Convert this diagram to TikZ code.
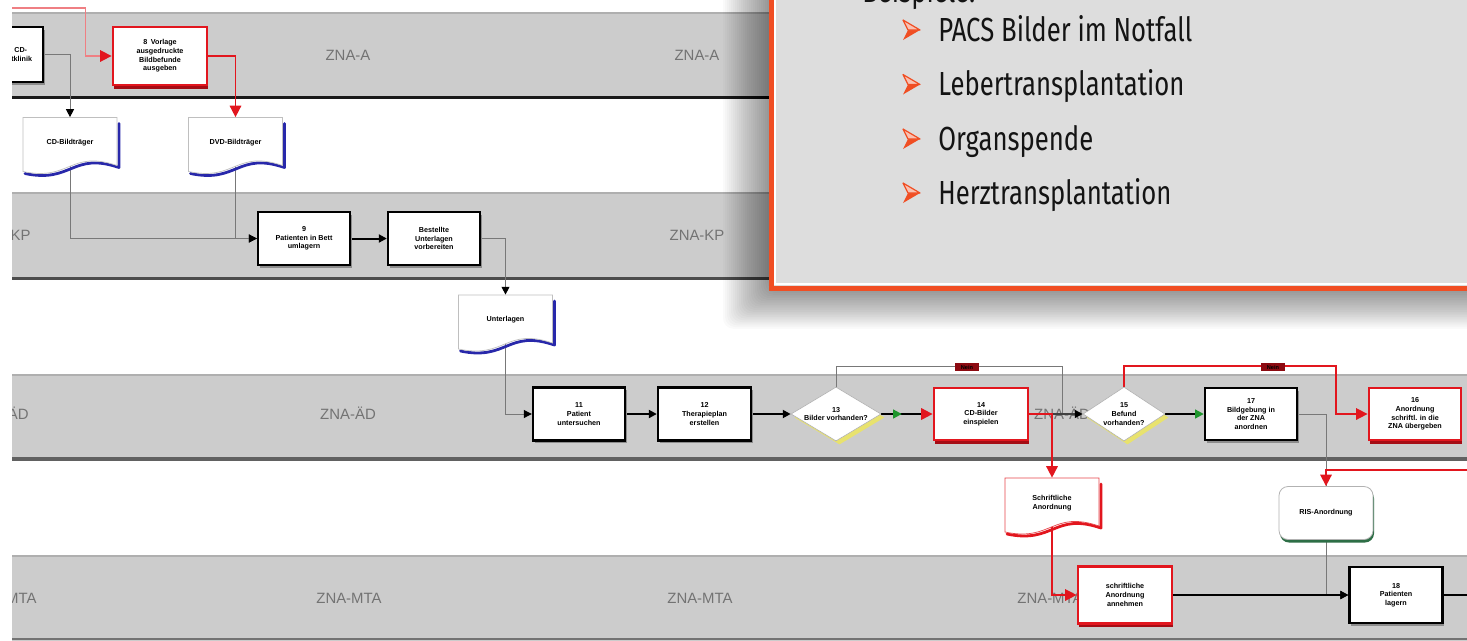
\documentclass[tikz,border=0pt]{standalone}
\usepackage{fontspec}
\setmainfont{Liberation Sans}
\newfontfamily\slidefont[FakeStretch=0.77]{Fira Sans}
\usetikzlibrary{arrows.meta,shapes.geometric,shadows,decorations.markings,calc}

% one drawing unit
\newlength\pxu
\setlength\pxu{0.02cm}

\pgfdeclarelayer{lanes}
\pgfdeclarelayer{links}
\pgfsetlayers{lanes,links,main}

\definecolor{lanegray}{RGB}{204,204,204}
\definecolor{laneedge}{RGB}{175,175,175}
\definecolor{lanetext}{RGB}{115,115,115}
\definecolor{linkgray}{RGB}{120,120,120}
\definecolor{flowred}{RGB}{226,22,30}
\definecolor{shadowred}{RGB}{165,12,20}
\definecolor{docblue}{RGB}{40,40,170}
\definecolor{panelfill}{RGB}{221,221,221}
\definecolor{panelred}{RGB}{240,78,35}
\definecolor{yesgreen}{RGB}{30,150,45}
\definecolor{diashadow}{RGB}{232,226,110}
\definecolor{dbgreen}{RGB}{45,110,70}

\newcommand\flowtext{\fontsize{4.1}{4.9}\selectfont\bfseries}

\tikzset{
  procbox/.style={draw=black, line width=2.4\pxu, fill=white,
    minimum width=92\pxu, minimum height=53\pxu, inner sep=0pt,
    align=center, font=\flowtext,
    drop shadow={shadow xshift=1.5\pxu, shadow yshift=-2.5\pxu, fill=black!45, opacity=1}},
  redbox/.style={draw=flowred, line width=2.8\pxu, fill=white,
    minimum width=92\pxu, minimum height=53\pxu, inner sep=0pt,
    align=center, font=\flowtext,
    drop shadow={shadow xshift=0.5\pxu, shadow yshift=-3.5\pxu, fill=shadowred, opacity=1}},
  decision/.style={diamond, aspect=1.7, draw=black!30, line width=0.6\pxu, fill=white,
    minimum width=90\pxu, minimum height=54\pxu, inner sep=0pt,
    align=center, font=\flowtext,
    drop shadow={shadow xshift=3.5\pxu, shadow yshift=-3.5\pxu, fill=diashadow, opacity=1}},
  storebox/.style={rounded corners=9\pxu, draw=black!30, line width=0.8\pxu, fill=white,
    minimum width=94\pxu, minimum height=53\pxu, inner sep=0pt,
    align=center, font=\flowtext,
    drop shadow={shadow xshift=1\pxu, shadow yshift=-3\pxu, fill=dbgreen, opacity=1}},
  docbox/.style={minimum width=94\pxu, minimum height=58\pxu, inner sep=0pt},
  doctext/.style={inner sep=0pt, align=center, font=\flowtext},
  neinlabel/.style={fill=shadowred!85!black, inner sep=0pt, minimum width=24\pxu,
    minimum height=8\pxu, font=\fontsize{3.2}{3.6}\selectfont\bfseries, text=black},
  lanelabel/.style={text=lanetext, inner sep=0pt, font=\fontsize{8.5}{10}\selectfont},
  slidetext/.style={inner sep=0pt, text=black!92, font={\slidefont\fontsize{19}{22}\selectfont}},
  thinlink/.style={draw=linkgray, line width=1\pxu},
  midlink/.style={draw=black!75, line width=1.5\pxu},
  mainlink/.style={draw=black, line width=2\pxu},
  redlink/.style={draw=flowred, line width=1.6\pxu},
  blacktip/.style={-{Triangle[length=4.5pt,width=4.5pt,color=black]}},
  redtip/.style={-{Triangle[length=6.5pt,width=6.5pt,color=flowred]}},
  greentip/.style={-{Triangle[length=5pt,width=5pt,color=yesgreen]}},
  yesmark/.style={postaction={decorate, decoration={markings,
    mark=at position 0.4 with {\arrow{Triangle[length=5pt,width=5pt,color=yesgreen]}}}}},
}

% document symbol: name, centre x, centre y, text, outline colour, shade colour
\newcommand\docnode[6]{%
  \begin{scope}[shift={(#2,#3)}]
    \draw[#6, line width=2.8\pxu, line cap=round, line join=round]
      (49,-23) -- (49,21) .. controls (2,5) and (2,37) .. (-45,27);
    \filldraw[fill=white, draw=#5, line width=0.7\pxu]
      (-47,-29) -- (47,-29) -- (47,19) .. controls (0,3) and (0,35) .. (-47,25) -- cycle;
  \end{scope}
  \node[docbox] (#1) at (#2,#3) {};
  \node[doctext] (#1t) at ($(#1.center)+(0,-4)$) {#4};
}

% orange arrowhead bullet at given baseline
\newcommand\slidebullet[1]{%
  \begin{scope}[shift={(903,#1)}]
    \fill[panelred] (0,-1) -- (17,-11) -- (5,-11) -- cycle;
    \filldraw[fill=panelred!35!white, draw=panelred, line width=1.2\pxu, line join=round]
      (0,-21) -- (17,-11) -- (5,-11) -- cycle;
  \end{scope}
}

\begin{document}
\begin{tikzpicture}[x=0.02cm, y=-0.02cm]
\useasboundingbox (0,0) rectangle (1467,640);

% ---------- swim lanes ----------
\begin{pgfonlayer}{lanes}
  \fill[white] (0,0) rectangle (1467,640);
  \fill[lanegray] (12,13) rectangle (1480,97);
  \fill[lanegray] (12,193) rectangle (1480,279);
  \fill[lanegray] (12,375) rectangle (1480,459);
  \fill[lanegray] (12,556) rectangle (1480,645);
  \draw[laneedge, line width=1.5\pxu] (12,13) -- (1480,13);
  \draw[laneedge, line width=1.5\pxu] (12,193) -- (1480,193);
  \draw[laneedge, line width=1.5\pxu] (12,375) -- (1480,375);
  \draw[laneedge, line width=1.5\pxu] (12,556) -- (1480,556);
  \draw[black!90, line width=3\pxu] (12,97) -- (1480,97);
  \draw[black!70, line width=3\pxu] (12,278) -- (1480,278);
  \draw[black!62, line width=4\pxu] (12,459) -- (1480,459);
  \draw[black!55, line width=2\pxu] (12,639) -- (1480,639);
  \begin{scope}
    \clip (12,0) rectangle (1467,640);
    \node[lanelabel, anchor=east] (lkp0) at (31,235) {ZNA-KP};
    \node[lanelabel, anchor=east] (lad0) at (29,413) {ZNA-ÄD};
    \node[lanelabel, anchor=east] (lmta0) at (37,598) {ZNA-MTA};
  \end{scope}
  \node[lanelabel] (la1) at (348,55) {ZNA-A};
  \node[lanelabel] (la2) at (697,55) {ZNA-A};
  \node[lanelabel] (lkp2) at (697,235) {ZNA-KP};
  \node[lanelabel] (lad1) at (348,413) {ZNA-ÄD};
  \node[lanelabel] (lad3) at (1062,413) {ZNA-ÄD};
  \node[lanelabel] (lmta1) at (349,598) {ZNA-MTA};
  \node[lanelabel] (lmta2) at (700,598) {ZNA-MTA};
  \node[lanelabel] (lmta3) at (1050,598) {ZNA-MTA};
\end{pgfonlayer}

\clip (12,0) rectangle (1467,640);

% ---------- process steps ----------
\node[procbox, minimum width=93\pxu, minimum height=55\pxu] (A0) at (-3.5,54.5)
  {Patient bringt CD-\\Bilder aus Gastklinik};
\node[redbox, minimum width=94\pxu, minimum height=58\pxu] (A1) at (160,56)
  {8\enspace Vorlage\\ausgedruckte\\Bildbefunde\\ausgeben};

\docnode{D1}{70}{146.5}{CD-Bildträger}{black!25}{docblue}
\docnode{D2}{235.5}{146.5}{DVD-Bildträger}{black!25}{docblue}

\node[procbox] (B1) at (304,238.5) {9\\Patienten in Bett\\umlagern};
\node[procbox] (B2) at (434,238.5) {Bestellte\\Unterlagen\\vorbereiten};

\docnode{D3}{505.5}{324}{Unterlagen}{black!25}{docblue}

\node[procbox] (C1) at (579,414) {11\\Patient\\untersuchen};
\node[procbox, minimum width=93\pxu] (C2) at (704.5,414) {12\\Therapieplan\\erstellen};
\node[decision] (Q1) at (836,414) {13\\Bilder vorhanden?};
\node[redbox, minimum width=94\pxu, minimum height=52\pxu] (C3) at (981,414) {14\\CD-Bilder\\einspielen};
\node[decision, minimum width=82\pxu] (Q2) at (1124,414) {15\\Befund\\vorhanden?};
\node[procbox, minimum height=52\pxu] (C4) at (1251,414) {17\\Bildgebung in\\der ZNA\\anordnen};
\node[redbox, minimum height=52\pxu] (C5) at (1415,414) {16\\Anordnung\\schriftl. in die\\ZNA übergeben};

\node[neinlabel] (n1) at (967,367) {Nein};
\node[neinlabel] (n2) at (1273,367) {Nein};

\docnode{D4}{1052}{507}{Schriftliche\\Anordnung}{flowred!80}{flowred}
\node[storebox] (D5) at (1326,513) {RIS-Anordnung};

\node[redbox, minimum width=94\pxu, minimum height=57\pxu] (E1) at (1125,595) {schriftliche\\Anordnung\\annehmen};
\node[procbox, minimum width=93\pxu, minimum height=56\pxu] (E2) at (1396,595) {18\\Patienten\\lagern};

% ---------- connectors ----------
\begin{pgfonlayer}{links}
  \coordinate (topin) at (12,8);
  \draw[redlink, draw=flowred!55, redtip] (topin) -| ($(A1.west)+(-26,0)$) -- (A1.west);
  \draw[redlink, redtip] (A1.east) -| (D2.north);
  \draw[thinlink, blacktip] (A0.east) -| (D1.north);
  \draw[thinlink, blacktip] (D1.center) |- (B1.west);
  \draw[thinlink, blacktip] (D2.center) |- (B1.west);
  \draw[mainlink, blacktip] (B1) -- (B2);
  \draw[thinlink, blacktip] (B2.east) -| (D3.north);
  \draw[thinlink, blacktip] (D3.center) |- (C1.west);
  \draw[mainlink, blacktip] (C1) -- (C2);
  \draw[mainlink, blacktip] (C2) -- (Q1);
  \draw[mainlink, redtip, yesmark] (Q1) -- (C3);
  \coordinate (q1up) at (836,366);
  \coordinate (j1) at (1062,414);
  \draw[thinlink] (Q1.north) -- (q1up) -| (j1);
  \draw[midlink, blacktip] (C3) -- (Q2);
  \draw[redlink, redtip] (C3.east) -| (D4.north);
  \draw[redlink, redtip] (D4.center) |- (E1.west);
  \draw[mainlink, greentip] (Q2) -- (C4);
  \coordinate (q2up) at (1124,366);
  \coordinate (j2) at (1336,414);
  \draw[redlink, redtip] (Q2.north) -- (q2up) -| (j2) -- (C5.west);
  \draw[thinlink] (C4.east) -| (D5.north);
  \coordinate (rin) at (1467,470);
  \draw[redlink, redtip] (rin) -| (D5.north);
  \draw[thinlink, blacktip] (D5.center) |- (E2.west);
  \draw[mainlink, blacktip] (E1) -- (E2);
  \coordinate (eout) at (1467,595);
  \draw[mainlink] (E2) -- (eout);
\end{pgfonlayer}

% ---------- overlay panel with soft shadow ----------
\foreach \i in {1,...,24} {
  \fill[black, opacity=0.021, rounded corners=6pt]
    ({771-2*\i},-60) rectangle (1520,{288+1.7*\i});
}
\fill[panelfill] (771,-40) rectangle (1500,288);
\draw[white, line width=2\pxu] (775,-40) |- (1500,284);
\draw[panelred, line width=5\pxu] (771,-40) |- (1500,288);

\node[slidetext, anchor=base west] (bsp) at (862,2) {Beispiele:};
\slidebullet{41}
\node[slidetext, anchor=base west] (it1) at (938,41) {PACS Bilder im Notfall};
\slidebullet{95.5}
\node[slidetext, anchor=base west] (it2) at (938,95.5) {Lebertransplantation};
\slidebullet{150}
\node[slidetext, anchor=base west] (it3) at (938,150) {Organspende};
\slidebullet{204}
\node[slidetext, anchor=base west] (it4) at (938,204) {Herztransplantation};
\end{tikzpicture}
\end{document}
